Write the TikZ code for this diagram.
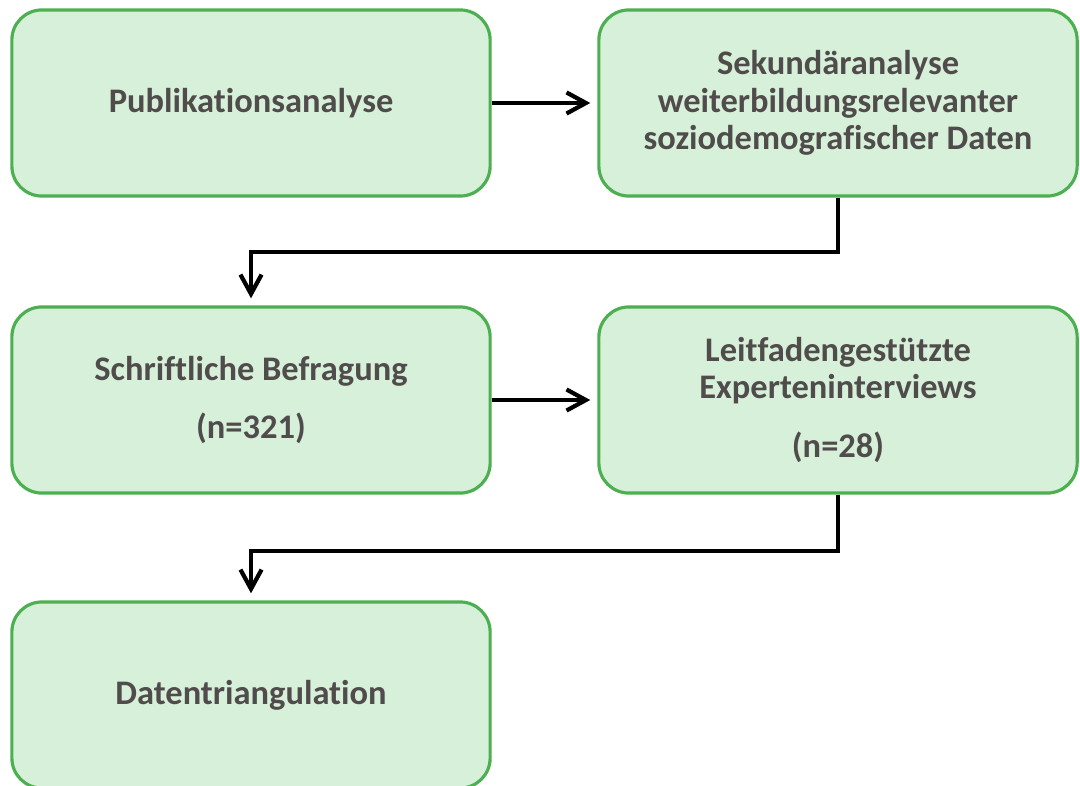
\documentclass[tikz,border=0pt]{standalone}
\usepackage{fontspec}
\setmainfont{Carlito}[Ligatures={NoCommon,NoContextual}]
\usetikzlibrary{arrows.meta}
\definecolor{boxfill}{RGB}{215,240,217}
\definecolor{boxline}{RGB}{76,175,80}
\definecolor{boxtext}{RGB}{80,76,76}
\begin{document}
\begin{tikzpicture}[x=0.01cm,y=-0.01cm,
  stage/.style={draw=boxline,fill=boxfill,line width=0.9pt,rounded corners=0.3cm,
    minimum width=4.78cm,minimum height=1.86cm,align=center,text=boxtext,
    font=\fontsize{9.8}{10.6}\selectfont\bfseries},
  flow/.style={line width=1.2pt,-{Straight Barb[length=5.5pt,width=6pt]},shorten >=2pt}]
 \useasboundingbox (0,0) rectangle (1080,785);
 % first row
 \node[stage] (publ) at (251,103) {Publikationsanalyse};
 \node[stage] (sekund) at (838,103) {Sekundäranalyse\\weiterbildungsrelevanter\\soziodemografischer Daten};
 % second row
 \node[stage] (schrift) at (251,400) {Schriftliche Befragung\\[6pt](n=321)};
 \node[stage] (experten) at (838,400) {Leitfadengestützte\\Experteninterviews\\[6pt](n=28)};
 % last step
 \node[stage] (trian) at (251,695) {Datentriangulation};
 % connectors
 \draw[flow] (publ.east) -- (sekund.west);
 \draw[flow] (sekund.south) -- ++(0,54) -| (schrift.north);
 \draw[flow] (schrift.east) -- (experten.west);
 \draw[flow] (experten.south) -- ++(0,56) -| (trian.north);
\end{tikzpicture}
\end{document}
